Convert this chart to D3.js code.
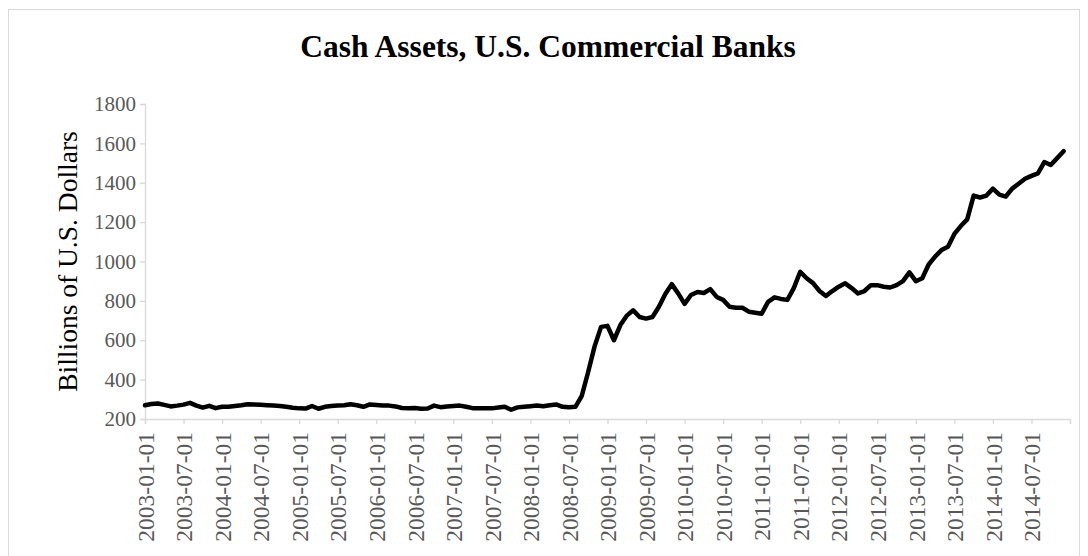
<!DOCTYPE html>
<html>
<head>
<meta charset="utf-8">
<script src="https://cdn.jsdelivr.net/npm/d3@7"></script>
<style>
  html, body { margin: 0; padding: 0; background: #fff; }
  svg { display: block; }
</style>
</head>
<body>
<svg id="chart" width="1088" height="556"></svg>
<script>
// Monthly cash assets of U.S. commercial banks, billions of dollars (Jan 2003 – Dec 2014)
const cashAssets = [
  270, 276, 279, 272, 264, 268, 273, 282, 268, 258, 267, 255,          // 2003
  262, 262, 266, 270, 275, 274, 272, 270, 268, 266, 262, 257,          // 2004
  254, 253, 266, 252, 262, 266, 268, 270, 275, 270, 262, 274,          // 2005
  271, 268, 268, 264, 256, 255, 256, 252, 253, 268, 260, 264,          // 2006
  266, 268, 262, 255, 255, 254, 254, 258, 262, 247, 259, 262,          // 2007
  265, 268, 265, 270, 274, 262, 260, 262, 318, 440, 570, 668,          // 2008
  673, 600, 677, 725, 752, 718, 710, 718, 770, 835, 885, 838,          // 2009
  785, 830, 845, 840, 860, 820, 805, 770, 765, 765, 745, 740,          // 2010
  735, 795, 818, 810, 805, 865, 948, 915, 890, 850, 825, 850,          // 2011
  872, 889, 865, 838, 850, 880, 880, 872, 868, 880, 900, 945,          // 2012
  900, 915, 985, 1025, 1058, 1075, 1140, 1180, 1214, 1335, 1325, 1335, // 2013
  1370, 1340, 1330, 1370, 1395, 1420, 1435, 1448, 1505, 1490, 1525, 1560 // 2014
];
const tickLabels = [
  "2003-01-01", "2003-07-01", "2004-01-01", "2004-07-01", "2005-01-01", "2005-07-01",
  "2006-01-01", "2006-07-01", "2007-01-01", "2007-07-01", "2008-01-01", "2008-07-01",
  "2009-01-01", "2009-07-01", "2010-01-01", "2010-07-01", "2011-01-01", "2011-07-01",
  "2012-01-01", "2012-07-01", "2013-01-01", "2013-07-01", "2014-01-01", "2014-07-01"
];
const yTicks = [200, 400, 600, 800, 1000, 1200, 1400, 1600, 1800];
const chartTitle = "Cash Assets, U.S. Commercial Banks";
const yTitle = "Billions of U.S. Dollars";

const svg = d3.select("#chart");
const serif = "'Liberation Serif', 'Times New Roman', serif";
const axisColor = "#d9d9d9";
const labelColor = "#595959";

// chart frame
svg.append("rect")
  .attr("x", 8.5).attr("y", 9.5)
  .attr("width", 1071).attr("height", 560)
  .attr("fill", "#fff").attr("stroke", axisColor).attr("stroke-width", 1);

const plot = { left: 145, right: 1070, top: 104, bottom: 419 };

// month index scale: one step per month, axis runs to Jan 2015
const x = d3.scaleLinear().domain([0, 144]).range([plot.left, plot.right]);
const y = d3.scaleLinear().domain([200, 1800]).range([plot.bottom, plot.top]);

// title
svg.append("text")
  .attr("x", 548).attr("y", 57)
  .attr("text-anchor", "middle")
  .style("font-family", serif).style("font-weight", "bold")
  .style("font-size", "31.5px").attr("fill", "#000")
  .text(chartTitle);

// y axis
const yAxis = d3.axisLeft(y).tickValues(yTicks).tickSize(5).tickPadding(4)
  .tickFormat(d3.format("d"));
const gy = svg.append("g").attr("transform", `translate(${plot.left},0)`).call(yAxis)
  .attr("font-family", null).attr("font-size", null);
gy.select(".domain").attr("stroke", axisColor).attr("stroke-width", 1.3);
gy.selectAll(".tick line").attr("stroke", axisColor).attr("stroke-width", 1.3);
gy.selectAll(".tick text")
  .style("font-family", serif).style("font-size", "21px").attr("fill", labelColor);

// x axis: tick every six months, labels rotated
const xTickIdx = d3.range(0, 145, 6);
const xAxis = d3.axisBottom(x).tickValues(xTickIdx).tickSize(5)
  .tickFormat((d, i) => tickLabels[i] || "");
const gx = svg.append("g").attr("transform", `translate(0,${plot.bottom})`).call(xAxis)
  .attr("font-family", null).attr("font-size", null);
gx.select(".domain").attr("stroke", axisColor).attr("stroke-width", 1.3);
gx.selectAll(".tick line").attr("stroke", axisColor).attr("stroke-width", 1.3);
gx.selectAll(".tick text")
  .style("font-family", serif).style("font-size", "23.5px").attr("fill", labelColor)
  .attr("text-anchor", "end")
  .attr("transform", "rotate(-90)")
  .attr("x", -13).attr("y", 0).attr("dy", "0.35em");

// y axis title
svg.append("text")
  .attr("transform", `translate(77,${(plot.top + plot.bottom) / 2}) rotate(-90)`)
  .attr("text-anchor", "middle")
  .style("font-family", serif).style("font-size", "27.5px").attr("fill", "#000")
  .text(yTitle);

// series line
const line = d3.line()
  .x((d, i) => x(i))
  .y(d => y(d));
svg.append("path")
  .datum(cashAssets)
  .attr("d", line)
  .attr("fill", "none")
  .attr("stroke", "#000")
  .attr("stroke-width", 4.5)
  .attr("stroke-linejoin", "round")
  .attr("stroke-linecap", "round");
</script>
</body>
</html>
